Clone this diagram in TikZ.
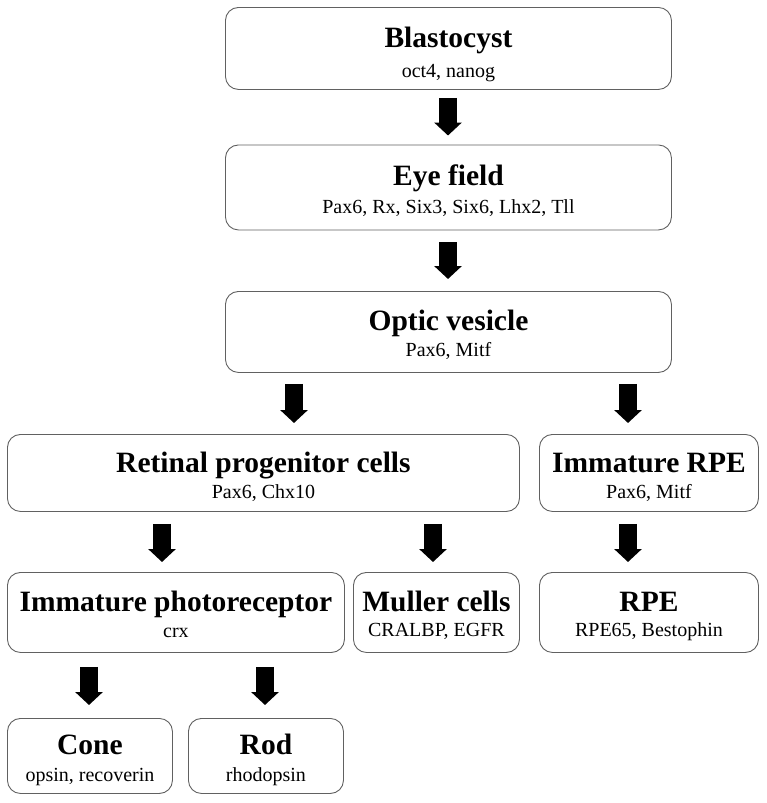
\documentclass[tikz,border=0pt]{standalone}
\usepackage{fontspec}
\setmainfont{Liberation Serif}
\usetikzlibrary{arrows.meta,calc}
\begin{document}
\begin{tikzpicture}[x=1pt,y=-1pt,
  box/.style={draw=black!62,line width=0.9pt,rounded corners=13pt,anchor=north west,inner sep=0pt,fill=white},
  ttl/.style={anchor=base,inner sep=0pt,font=\fontsize{29.5}{32}\selectfont\bfseries},
  sub/.style={anchor=base,inner sep=0pt,font=\fontsize{20}{22}\selectfont},
  blk/.style={line width=18pt,-{Triangle[width=27pt,length=13pt]}}]
\useasboundingbox (0,0) rectangle (766,803);
% boxes
\node[box,minimum width=446pt,minimum height=82pt] (blast) at (225,7) {};
\node[box,minimum width=446pt,minimum height=85pt] (eye) at (225,144.5) {};
\node[box,minimum width=446pt,minimum height=81pt] (ov) at (225,291) {};
\node[box,minimum width=512pt,minimum height=77pt] (rpc) at (7,434) {};
\node[box,minimum width=219pt,minimum height=77pt] (irpe) at (539,434) {};
\node[box,minimum width=337pt,minimum height=80pt] (iph) at (7,572) {};
\node[box,minimum width=166pt,minimum height=80pt] (mul) at (353,572) {};
\node[box,minimum width=219pt,minimum height=80pt] (rpe) at (539,572) {};
\node[box,minimum width=165pt,minimum height=75pt] (cone) at (7,718) {};
\node[box,minimum width=155pt,minimum height=75pt] (rod) at (188,718) {};
% texts
\node[ttl] (tblast) at ([yshift=-40pt]blast.north) {Blastocyst};
\node[sub] (sblast) at ([yshift=-70pt]blast.north) {oct4, nanog};
\node[ttl] (teye) at ([yshift=-41pt]eye.north) {Eye field};
\node[sub] (seye) at ([yshift=-69pt]eye.north) {Pax6, Rx, Six3, Six6, Lhx2, Tll};
\node[ttl] (tov) at ([yshift=-39pt]ov.north) {Optic vesicle};
\node[sub] (sov) at ([yshift=-65pt]ov.north) {Pax6, Mitf};
\node[ttl] (trpc) at ([yshift=-38pt]rpc.north) {Retinal progenitor cells};
\node[sub] (srpc) at ([yshift=-64pt]rpc.north) {Pax6, Chx10};
\node[ttl] (tirpe) at ([yshift=-38pt]irpe.north) {Immature RPE};
\node[sub] (sirpe) at ([yshift=-64pt]irpe.north) {Pax6, Mitf};
\node[ttl] (tiph) at ([yshift=-39pt]iph.north) {Immature photoreceptor};
\node[sub] (siph) at ([yshift=-65pt]iph.north) {crx};
\node[ttl] (tmul) at ([yshift=-39pt]mul.north) {Muller cells};
\node[sub] (smul) at ([yshift=-64.5pt]mul.north) {CRALBP, EGFR};
\node[ttl] (trpe) at ([yshift=-39pt]rpe.north) {RPE};
\node[sub] (srpe) at ([yshift=-64.5pt]rpe.north) {RPE65, Bestophin};
\node[ttl] (tcone) at ([yshift=-36pt]cone.north) {Cone};
\node[sub] (scone) at ([yshift=-63pt]cone.north) {opsin, recoverin};
\node[ttl] (trod) at ([yshift=-36pt]rod.north) {Rod};
\node[sub] (srod) at ([yshift=-63pt]rod.north) {rhodopsin};
% arrow columns
\coordinate (xa) at (448,0);
\coordinate (xb) at (294,0);
\coordinate (xc) at (628,0);
\coordinate (xd) at (162,0);
\coordinate (xe) at (433,0);
\coordinate (xf) at (89,0);
\coordinate (xg) at (265,0);
% arrows
\draw[blk] ($(blast.south -| xa)+(0,8)$) -- ($(eye.north -| xa)+(0,-9)$);
\draw[blk] ($(eye.south -| xa)+(0,12)$) -- ($(ov.north -| xa)+(0,-12)$);
\draw[blk] ($(ov.south -| xb)+(0,11)$) -- ($(rpc.north -| xb)+(0,-11)$);
\draw[blk] ($(ov.south -| xc)+(0,11)$) -- ($(irpe.north -| xc)+(0,-11)$);
\draw[blk] ($(rpc.south -| xd)+(0,12)$) -- ($(iph.north -| xd)+(0,-10)$);
\draw[blk] ($(rpc.south -| xe)+(0,12)$) -- ($(mul.north -| xe)+(0,-10)$);
\draw[blk] ($(irpe.south -| xc)+(0,12)$) -- ($(rpe.north -| xc)+(0,-10)$);
\draw[blk] ($(iph.south -| xf)+(0,14)$) -- ($(cone.north -| xf)+(0,-13)$);
\draw[blk] ($(iph.south -| xg)+(0,14)$) -- ($(rod.north -| xg)+(0,-13)$);
\end{tikzpicture}
\end{document}
